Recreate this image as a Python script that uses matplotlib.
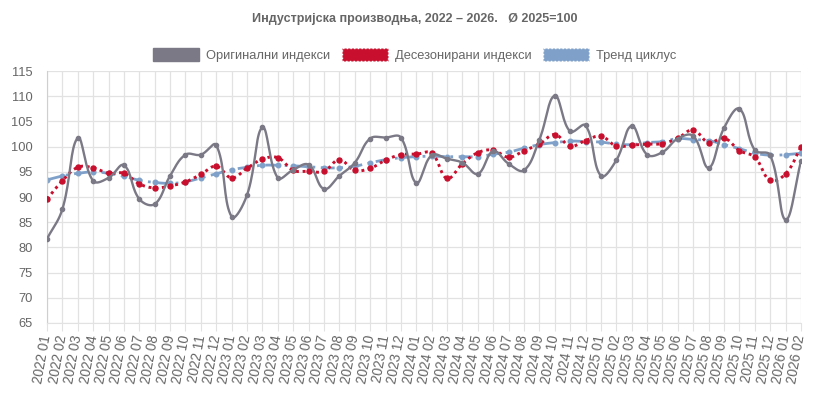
import numpy as np
import matplotlib
matplotlib.use("Agg")
import matplotlib.pyplot as plt
from matplotlib.patches import Patch

plt.rcParams['font.family'] = ['Liberation Sans', 'DejaVu Sans']

# months 2022-01 .. 2026-02
years = [2022] * 12 + [2023] * 12 + [2024] * 12 + [2025] * 12 + [2026] * 2
months = list(range(1, 13)) * 4 + [1, 2]
labels = [f"{y} {m:02d}" for y, m in zip(years, months)]

original = [81.7, 87.6, 101.7, 93.2, 93.8, 96.3, 89.6, 88.6, 94.2, 98.4, 98.4, 100.3,
            86.1, 90.4, 103.8, 93.8, 95.4, 96.4, 91.6, 94.2, 96.8, 101.6, 101.8, 101.8,
            92.8, 98.3, 97.6, 96.8, 94.6, 99.1, 96.6, 95.3, 101.4, 110.1, 103.0, 104.2,
            94.2, 97.3, 104.1, 98.4, 98.9, 101.6, 102.1, 95.8, 103.7, 107.5, 99.3, 98.3,
            85.5, 97.1]
deseason = [89.6, 93.2, 95.9, 95.8, 94.7, 94.7, 92.6, 91.8, 92.2, 93.0, 94.5, 96.1,
            93.8, 95.7, 97.5, 97.8, 95.3, 95.1, 95.1, 97.4, 95.3, 95.7, 97.3, 98.4,
            98.5, 98.7, 93.7, 96.6, 98.8, 99.3, 97.9, 99.2, 100.5, 102.4, 100.1, 101.2,
            102.1, 100.1, 100.3, 100.5, 100.6, 101.7, 103.3, 100.8, 101.7, 99.2, 97.9, 93.3,
            94.6, 99.9]
trend = [93.4, 94.2, 94.7, 95.0, 94.7, 94.1, 93.3, 92.9, 92.7, 93.0, 93.8, 94.6,
         95.4, 95.9, 96.3, 96.3, 96.2, 96.0, 95.8, 95.8, 96.1, 96.8, 97.4, 97.8,
         98.0, 98.1, 98.0, 98.0, 98.0, 98.5, 98.9, 99.7, 100.4, 100.8, 101.1, 101.0,
         100.9, 100.5, 100.4, 100.8, 101.0, 101.6, 101.4, 101.2, 100.4, 99.6, 98.7, 98.3,
         98.4, 98.7]

names = ["Оригинални индекси", "Десезонирани индекси", "Тренд циклус"]
c_gray = "#7a7985"
c_red = "#c8102e"
c_blue = "#7fa1c9"


def smooth(ys, tension=0.4, sx=15.39, sy=5.07, steps=20):
    # bezier spline like chart.js, computed in pixel space
    x = np.arange(len(ys)) * sx
    y = np.array(ys) * sy
    n = len(ys)
    cpp = np.zeros((n, 2))
    cpn = np.zeros((n, 2))
    for i in range(n):
        p = max(i - 1, 0)
        nx = min(i + 1, n - 1)
        d01 = np.hypot(x[i] - x[p], y[i] - y[p])
        d12 = np.hypot(x[nx] - x[i], y[nx] - y[i])
        tot = d01 + d12
        s01 = d01 / tot if tot else 0
        s12 = d12 / tot if tot else 0
        fa = tension * s01
        fb = tension * s12
        cpp[i] = [x[i] - fa * (x[nx] - x[p]), y[i] - fa * (y[nx] - y[p])]
        cpn[i] = [x[i] + fb * (x[nx] - x[p]), y[i] + fb * (y[nx] - y[p])]
    outx, outy = [], []
    t = np.linspace(0, 1, steps)
    for i in range(n - 1):
        p0 = np.array([x[i], y[i]])
        p3 = np.array([x[i + 1], y[i + 1]])
        p1 = cpn[i]
        p2 = cpp[i + 1]
        pts = ((1 - t) ** 3)[:, None] * p0 + (3 * (1 - t) ** 2 * t)[:, None] * p1 \
            + (3 * (1 - t) * t ** 2)[:, None] * p2 + (t ** 3)[:, None] * p3
        outx.extend(pts[:, 0])
        outy.extend(pts[:, 1])
    return np.array(outx) / sx, np.array(outy) / sy


fig = plt.figure(figsize=(8.29, 3.99), dpi=100)
ax = fig.add_axes([0.0567, 0.1905, 0.9095, 0.6315])

xi = np.arange(len(labels))

sx_, sy_ = smooth(trend)
ax.plot(sx_, sy_, color=c_blue, lw=2.0, linestyle=(0, (5, 2, 1, 2)), zorder=2)
ax.plot(xi, trend, "o", color=c_blue, ms=3.3, zorder=2)

sx_, sy_ = smooth(deseason)
ax.plot(sx_, sy_, color=c_red, lw=2.1, linestyle=(0, (1, 1.3)), zorder=3)
ax.plot(xi, deseason, "o", color=c_red, ms=3.6, zorder=3)

sx_, sy_ = smooth(original)
ax.plot(sx_, sy_, color=c_gray, lw=1.7, zorder=4)
ax.plot(xi, original, "o", color=c_gray, ms=3.0, zorder=4)

ax.set_xlim(0, len(labels) - 1)
ax.set_ylim(65, 115)
ax.set_yticks(range(65, 116, 5))
ax.set_xticks(xi)
ax.set_xticklabels(labels, rotation=80, ha="right", va="center", rotation_mode="anchor")
ax.grid(True, color="#e2e2e2", lw=0.9)
ax.set_axisbelow(True)
for s in ["top", "right"]:
    ax.spines[s].set_visible(False)
ax.spines["left"].set_color("#cfcfcf")
ax.spines["bottom"].set_color("#e2e2e2")
ax.tick_params(axis="x", colors="#e2e2e2", labelcolor="#666666", labelsize=9.8, length=6, pad=3)
ax.tick_params(axis="y", length=0, labelcolor="#666666", labelsize=9.3, pad=10)

fig.text(0.5, 0.952, "Индустријска производња, 2022 – 2026.   Ø 2025=100",
         ha="center", va="center", fontsize=9, fontweight="bold", color="#666666")

handles = [Patch(facecolor=c_gray, edgecolor=c_gray),
           Patch(facecolor=c_red, edgecolor="white", linestyle=":"),
           Patch(facecolor=c_blue, edgecolor="white", linestyle=":")]
leg = fig.legend(handles, names, loc="center", bbox_to_anchor=(0.5, 0.862), ncol=3,
                 frameon=False, handlelength=3.6, handleheight=1.1, handletextpad=0.5,
                 columnspacing=0.9, prop={"size": 9.3})
for t in leg.get_texts():
    t.set_color("#666666")

fig.savefig("out.png", dpi=100)
